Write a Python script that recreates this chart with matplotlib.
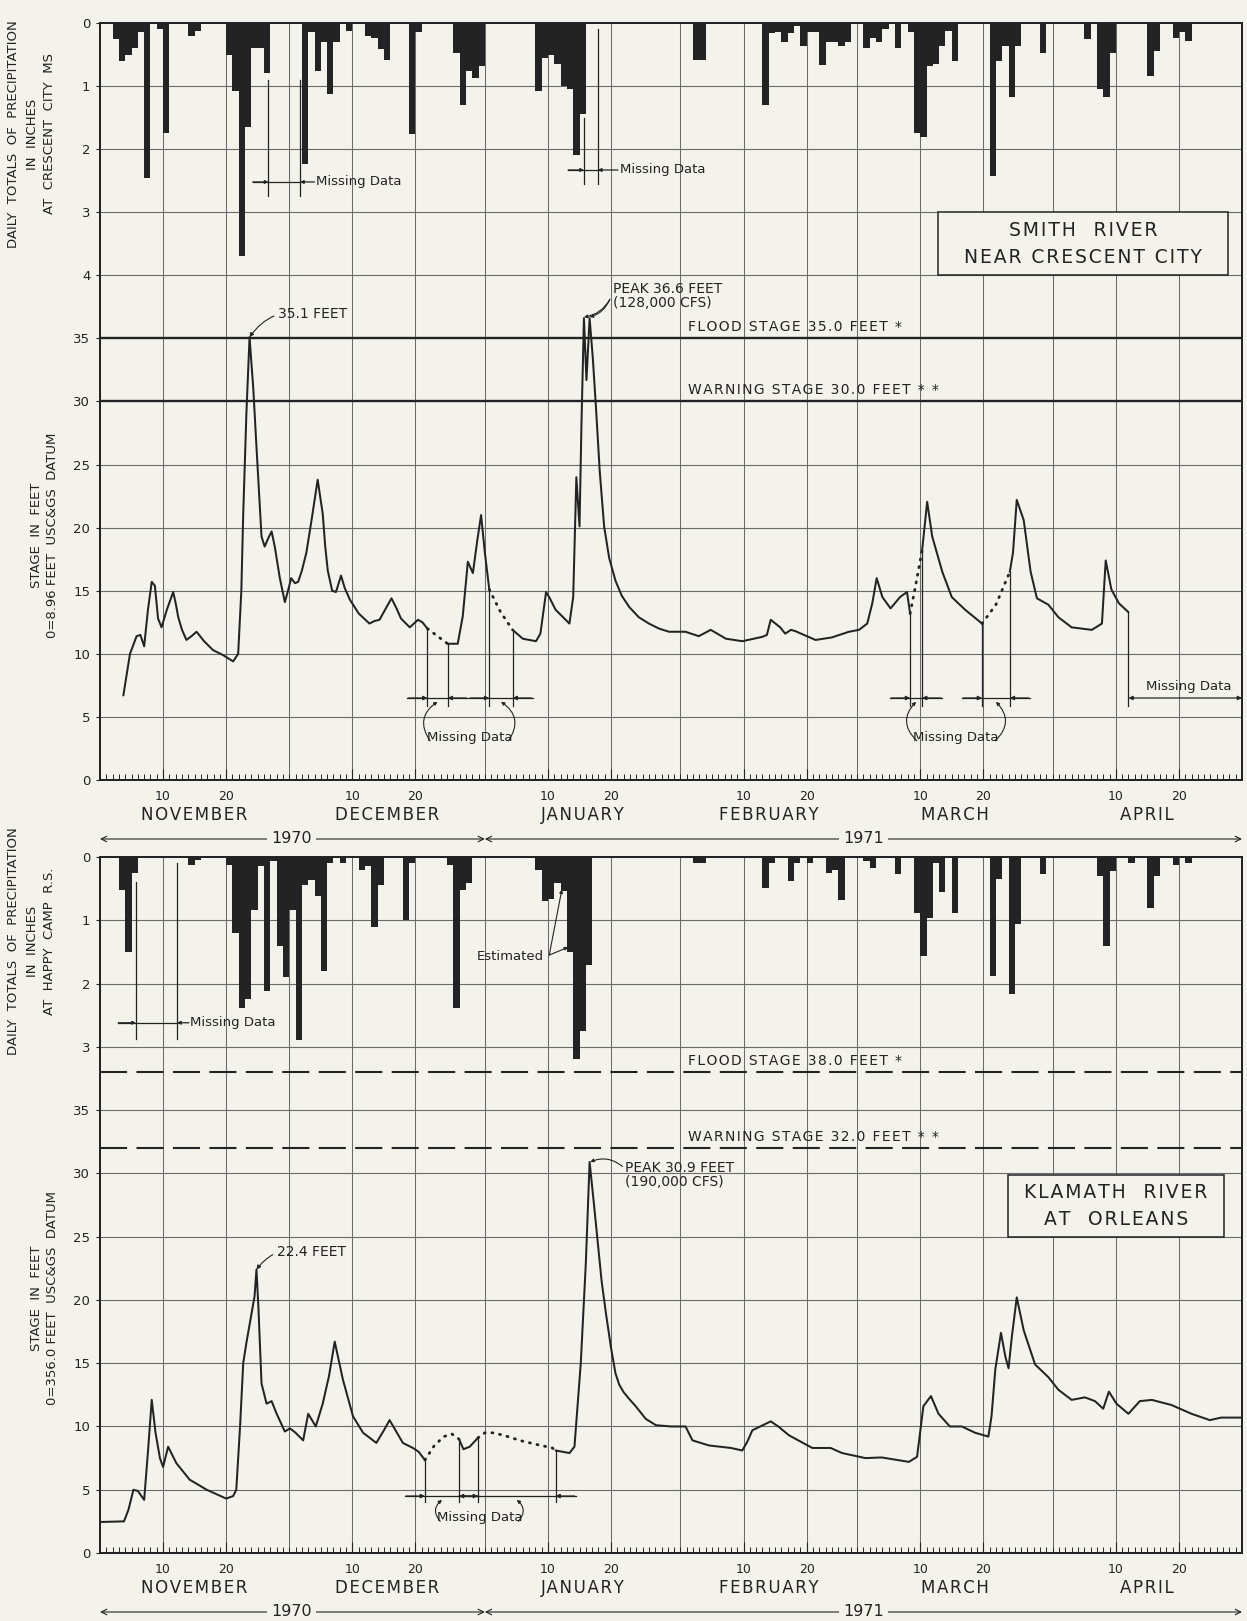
import numpy as np
import matplotlib
matplotlib.use("Agg")
import matplotlib.pyplot as plt
from matplotlib.patches import Rectangle
from matplotlib.transforms import offset_copy

W, H = 1247, 1621
BG = "#f3f3eb"
INK = "#232323"
GRIDC = "#6b6b6b"
plt.rcParams["font.family"] = ["DejaVu Sans"]
HAIR = "\u200a"

# ---------------- data ----------------
month_names = ["NOVEMBER", "DECEMBER", "JANUARY", "FEBRUARY", "MARCH", "APRIL"]
month_lengths = [30, 31, 31, 28, 31, 30]
day_labels = [10, 20]
year_labels = ["1970", "1971"]
year_label_day = [30.4, 121.0]

# Smith River near Crescent City: stage (ft) vs day counted from 31 Oct 1970
smith_day = [3.7, 4.75, 5.8, 6.4, 7.0, 7.6, 8.2, 8.7, 9.2, 9.75, 10.6, 11.6, 12.0, 12.4, 13.0,
             13.7, 14.5, 15.3, 16.5, 17.9, 19.5, 21.1, 21.9, 22.4, 22.7, 23.2, 23.7, 24.3, 24.8,
             25.6, 26.1, 26.7, 27.2, 27.7, 28.5, 29.3, 29.8, 30.3, 30.9, 31.4, 32.0, 32.7, 33.5,
             34.5, 35.3, 35.7, 36.1, 36.8, 37.4, 38.2, 38.8, 39.6, 41.0, 42.7, 43.5, 44.3, 45.3,
             46.2, 47.0, 47.7, 49.1, 50.4, 51.1, 51.9, 53.5, 55.1, 56.7, 57.5, 58.3, 59.1, 59.8,
             60.4, 61.0, 61.7, 63.5, 65.4, 67.0, 69.1, 69.8, 70.7, 71.3, 72.2, 74.4, 75.0, 75.5,
             76.0, 76.3, 76.7, 77.1, 77.6, 78.1, 78.6, 79.2, 79.9, 80.7, 81.7, 82.7, 83.9, 85.4,
             87.0, 88.6, 90.2,
             92.8, 94.9, 96.8, 99.2, 101.8, 105.0, 105.7, 106.3, 107.8, 108.6, 109.5, 110.2, 113.4,
             116.0, 118.7, 120.3, 121.6, 122.4, 123.1, 124.0, 125.3, 126.8, 127.9, 128.4, 129.3,
             130.3, 131.1, 131.9, 133.5, 135.0, 137.1, 139.8, 142.0, 144.2, 144.7, 145.3, 146.4,
             147.5, 148.5, 150.3, 151.9, 154.0, 157.2, 158.8, 159.4, 160.3, 161.5, 163.0]
smith_stage = [6.7, 10.0, 11.4, 11.5, 10.6, 13.5, 15.7, 15.4, 12.8, 12.1, 13.5, 14.9, 14.0, 12.9, 11.9,
               11.1, 11.4, 11.75, 11.0, 10.3, 9.9, 9.4, 10.0, 15.0, 21.1, 29.0, 35.1, 31.0, 26.4,
               19.3, 18.5, 19.2, 19.7, 18.5, 16.0, 14.1, 15.0, 16.0, 15.6, 15.7, 16.6, 18.0, 20.5,
               23.8, 21.1, 18.5, 16.6, 15.0, 14.9, 16.2, 15.2, 14.3, 13.2, 12.4, 12.6, 12.7, 13.6,
               14.4, 13.6, 12.8, 12.1, 12.7, 12.5, 12.0, 11.4, 10.8, 10.8, 13.0, 17.3, 16.4, 19.0,
               21.0, 18.0, 15.1, 13.3, 11.9, 11.2, 11.0, 11.6, 14.9, 14.4, 13.5, 12.4, 14.5, 24.0,
               20.1, 28.0, 36.6, 31.7, 36.6, 33.5, 29.6, 24.5, 20.1, 17.6, 15.8, 14.6, 13.7, 12.9,
               12.4, 12.0, 11.75,
               11.75, 11.4, 11.9, 11.2, 11.0, 11.35, 11.5, 12.7, 12.1, 11.6, 11.9, 11.8, 11.1,
               11.3, 11.75, 11.9, 12.4, 14.0, 16.0, 14.5, 13.6, 14.5, 14.9, 13.2, 15.5,
               18.2, 22.05, 19.3, 16.5, 14.5, 13.5, 12.4, 13.9, 16.5, 18.0, 22.2, 20.6,
               16.5, 14.4, 13.9, 12.9, 12.1, 11.9, 12.4, 17.4, 15.1, 14.0, 13.3]
smith_gaps = [(51.9, 55.1), (61.7, 65.4), (128.4, 130.3), (139.8, 144.2)]
smith_flood = 35.0
smith_warning = 30.0

# daily precipitation (inches) at Crescent City
smith_rain_day = [3, 4, 5, 6, 7, 8, 10, 11, 15, 16, 21, 22, 23, 24, 25, 26, 27,
                  33, 34, 35, 36, 37, 38, 40, 43, 44, 45, 46, 50, 51, 57, 58, 59, 60, 61,
                  70, 71, 72, 73, 74, 75, 76, 77, 95, 96,
                  106, 107, 108, 109, 110, 111, 112, 113, 114, 115, 116, 117, 118, 119,
                  122, 123, 124, 125, 127, 129, 130, 131, 132, 133, 134, 135, 136,
                  142, 143, 144, 145, 146, 150, 157, 159, 160, 161, 167, 168, 171, 172, 173]
smith_rain_in = [0.26, 0.6, 0.5, 0.4, 0.15, 2.45, 0.1, 1.75, 0.2, 0.13, 0.5, 1.08, 3.7, 1.65, 0.4, 0.4, 0.8,
                 2.24, 0.15, 0.76, 0.3, 1.13, 0.3, 0.13, 0.2, 0.24, 0.42, 0.58, 1.76, 0.15, 0.47, 1.3, 0.76, 0.87, 0.68,
                 1.08, 0.55, 0.5, 0.65, 1.0, 1.05, 2.1, 1.45, 0.58, 0.58,
                 1.3, 0.16, 0.15, 0.3, 0.16, 0.05, 0.37, 0.15, 0.15, 0.66, 0.3, 0.3, 0.37, 0.3,
                 0.4, 0.24, 0.3, 0.1, 0.4, 0.15, 1.74, 1.8, 0.68, 0.65, 0.37, 0.13, 0.6,
                 2.42, 0.6, 0.37, 1.18, 0.37, 0.47, 0.26, 1.05, 1.18, 0.47, 0.84, 0.45, 0.24, 0.15, 0.29]
smith_rain_missing = [(26.7, 31.7), (76.7, 78.9)]

# Klamath River at Orleans
klamath_day = [0.0, 3.8, 4.5, 5.3, 6.0, 7.0, 7.6, 8.2, 8.8, 9.5, 10.0, 10.8, 12.1, 14.2, 16.9, 20.0,
               21.1, 21.6, 22.2, 22.7, 23.2, 24.5, 24.8, 25.1, 25.6, 26.4, 27.2, 28.0, 29.3, 30.1,
               31.0, 32.2, 33.0, 34.2, 35.3, 36.3, 37.2, 38.5, 40.1, 41.7, 43.8, 45.0, 45.9, 48.0,
               49.6, 50.5, 51.5, 53.0, 54.5, 55.8, 56.9, 57.6, 58.6, 59.9, 61.0, 62.2, 64.0, 66.5,
               69.0, 71.7, 72.2, 74.4, 75.2, 76.2, 77.0, 77.6, 78.2, 78.8, 79.5, 80.2, 81.0, 81.7,
               82.3, 83.0, 84.0, 84.9,
               86.5, 88.1, 90.5, 92.8, 93.9, 96.5, 100.0, 101.8, 102.6, 103.4, 106.3, 107.5, 109.2,
               112.9, 115.8, 117.6, 121.3, 123.9, 128.2, 129.5, 130.5, 131.7, 132.9, 134.7, 136.6,
               138.7, 140.8, 141.3, 141.9, 142.8, 143.5, 144.0, 144.5, 145.3, 146.4, 148.2, 150.3,
               151.9, 154.0, 156.1, 157.7, 159.0, 159.9, 161.1, 163.0, 164.8, 166.7, 169.8, 173.0,
               175.9, 177.7, 181.0]
klamath_stage = [2.45, 2.5, 3.4, 5.0, 4.9, 4.2, 8.0, 12.1, 9.5, 7.5, 6.8, 8.4, 7.1, 5.8, 5.0, 4.3,
                 4.5, 5.0, 10.0, 15.0, 16.6, 20.3, 22.4, 19.5, 13.4, 11.8, 12.0, 11.0, 9.6, 9.85,
                 9.5, 8.9, 11.0, 10.0, 11.8, 14.0, 16.7, 13.7, 10.8, 9.5, 8.7, 9.7, 10.5, 8.7,
                 8.3, 8.0, 7.35, 8.5, 9.2, 9.4, 9.0, 8.2, 8.4, 9.1, 9.5, 9.5, 9.3, 8.9,
                 8.6, 8.3, 8.1, 7.9, 8.4, 15.0, 22.9, 30.9, 28.0, 25.0, 21.5, 18.9, 16.2, 14.2,
                 13.3, 12.7, 12.1, 11.6,
                 10.6, 10.1, 10.0, 10.0, 8.9, 8.5, 8.3, 8.1, 8.8, 9.7, 10.4, 10.0, 9.3,
                 8.3, 8.3, 7.9, 7.5, 7.55, 7.2, 7.6, 11.6, 12.4, 11.0, 10.0, 10.0,
                 9.5, 9.2, 10.8, 14.5, 17.4, 15.5, 14.6, 17.0, 20.2, 17.6, 14.9, 13.9,
                 12.9, 12.1, 12.3, 12.0, 11.4, 12.75, 11.8, 11.0, 12.0, 12.1, 11.7, 11.0,
                 10.5, 10.7, 10.7]
klamath_gaps = [(51.5, 56.9), (59.9, 72.2)]
klamath_flood = 38.0
klamath_warning = 32.0

# daily precipitation (inches) at Happy Camp R.S.
klamath_rain_day = [4, 5, 6, 15, 16, 21, 22, 23, 24, 25, 26, 27, 28, 29, 30, 31, 32, 33, 34, 35, 36, 37,
                    39, 42, 43, 44, 45, 49, 50, 56, 57, 58, 59,
                    70, 71, 72, 73, 74, 75, 76, 77, 78, 95, 96,
                    106, 107, 110, 111, 113, 116, 117, 118, 122, 123, 127,
                    130, 131, 132, 133, 134, 136, 142, 143, 145, 146, 150,
                    159, 160, 161, 164, 167, 168, 171, 173]
klamath_rain_in = [0.52, 1.5, 0.25, 0.12, 0.05, 0.12, 1.2, 2.38, 2.25, 0.83, 0.15, 2.12, 0.07, 1.41, 1.9, 0.83,
                   2.9, 0.44, 0.36, 0.62, 1.8, 0.1,
                   0.1, 0.2, 0.15, 1.1, 0.44, 0.99, 0.1, 0.12, 2.38, 0.52, 0.41,
                   0.2, 0.7, 0.67, 0.41, 0.54, 1.5, 3.2, 2.75, 1.7, 0.1, 0.1,
                   0.49, 0.1, 0.38, 0.1, 0.1, 0.25, 0.2, 0.68, 0.06, 0.17, 0.27,
                   0.88, 1.56, 0.96, 0.1, 0.56, 0.88, 1.88, 0.35, 2.17, 1.06, 0.27,
                   0.3, 1.4, 0.22, 0.09, 0.8, 0.3, 0.12, 0.09]
klamath_rain_missing = [(5.7, 12.2)]
klamath_estimated_days = [74, 75]

# ---------------- helpers ----------------
month_start = np.concatenate([[0], np.cumsum(month_lengths)])
n_days = month_start[-1]
grid_x = sorted(set(list(month_start) + [m + d for m in month_start[:-1] for d in day_labels]))

fig = plt.figure(figsize=(W / 100, H / 100), dpi=100)
fig.patch.set_facecolor(BG)


def spaced(txt):
    return HAIR.join(txt)


def rect(x0, y0, x1, y1):
    return [x0 / W, 1 - y1 / H, (x1 - x0) / W, (y1 - y0) / H]


def arrow(ax, xy, xytext, style="-|>", rad=0.0, ms=7, lw=0.9):
    ax.annotate("", xy=xy, xytext=xytext,
                arrowprops=dict(arrowstyle=style, color=INK, lw=lw, mutation_scale=ms,
                                shrinkA=0, shrinkB=0,
                                connectionstyle=f"arc3,rad={rad}"))


def panel(y0, y1, top_ft, day, stage, gaps, rday, rin, flood, warn, dashed,
          flood_txt, warn_txt, box_txt, box_rect, miss_y, miss_bot):
    ax = fig.add_axes(rect(100, y0, 1242, y1))
    ax.set_facecolor("none")
    ax.set_xlim(0, n_days)
    ax.set_ylim(0, top_ft)
    for gx in grid_x:
        ax.axvline(gx, color=GRIDC, lw=0.75, zorder=0.5)
    for gy in np.arange(5, top_ft, 5):
        if gy in (flood, warn):
            continue
        ax.axhline(gy, color=GRIDC, lw=0.8, zorder=0.5)
    for v in (flood, warn):
        if dashed:
            ax.axhline(v, color=INK, lw=1.5, ls=(0, (13, 4.5)), zorder=1)
        else:
            ax.axhline(v, color=INK, lw=1.7, zorder=1)
    ax.text(93.2, flood + 0.9, spaced(flood_txt), fontsize=10, color=INK, va="center", ha="left")
    ax.text(93.2, warn + 0.9, spaced(warn_txt), fontsize=10, color=INK, va="center", ha="left")

    # stage hydrograph, dotted where record is missing
    d = np.asarray(day, float)
    s = np.asarray(stage, float)
    styles = [any(g0 <= d[i] and d[i + 1] <= g1 for g0, g1 in gaps) for i in range(len(d) - 1)]
    start = 0
    for i in range(1, len(styles) + 1):
        if i == len(styles) or styles[i] != styles[start]:
            sl = slice(start, i + 1)
            if styles[start]:
                ax.plot(d[sl], s[sl], color=INK, lw=2.0, ls=(0, (0.4, 2.4)),
                        dash_capstyle="round", zorder=3)
            else:
                ax.plot(d[sl], s[sl], color=INK, lw=1.45, zorder=3,
                        solid_joinstyle="round", solid_capstyle="round")
            start = i

    # missing-data brackets under the dotted pieces
    for g0, g1 in gaps:
        for g in (g0, g1):
            ax.plot([g, g], [np.interp(g, d, s), miss_bot], color=INK, lw=0.9, zorder=2)
        ax.plot([g0 - 3.2, g1 + 3.2], [miss_y, miss_y], color=INK, lw=0.9, zorder=2)
        arrow(ax, (g0, miss_y), (g0 - 3.0, miss_y), ms=6)
        arrow(ax, (g1, miss_y), (g1 + 3.0, miss_y), ms=6)
    mids = [(g0 + g1) / 2 for g0, g1 in gaps]

    # box label
    bx0, by0, bx1, by1 = box_rect
    ax.add_patch(Rectangle((bx0, by0), bx1 - bx0, by1 - by0, facecolor=BG,
                           edgecolor=INK, lw=1.1, zorder=2.5))
    ax.text((bx0 + bx1) / 2, (by0 + by1) / 2, "\n".join(spaced(t) for t in box_txt),
            ha="center", va="center", fontsize=13.5, color=INK, linespacing=1.55, zorder=4)

    # precipitation hanging from the top
    axp = ax.twinx()
    axp.set_ylim(top_ft / 5, 0)
    axp.bar(np.asarray(rday) - 0.5, rin, width=1.0, color=INK, linewidth=0, zorder=2)

    # ticks
    ax.set_yticks(np.arange(0, 40, 5))
    ax.tick_params(axis="y", direction="out", length=3, labelsize=9.5, pad=4, colors=INK)
    axp.yaxis.tick_left()
    axp.set_yticks(range(0, int((top_ft - 40) / 5) + 1))
    axp.tick_params(axis="y", direction="out", length=3, labelsize=9.5, pad=4, colors=INK)
    tick_x = [m + dd for m in month_start[:-1] for dd in day_labels]
    ax.set_xticks(tick_x)
    ax.set_xticklabels([str(dd) for m in month_start[:-1] for dd in day_labels])
    ax.set_xticks(np.arange(0, n_days + 1), minor=True)
    ax.tick_params(axis="x", which="major", direction="in", length=8, width=0.8,
                   pad=7, labelsize=9, colors=INK)
    ax.tick_params(axis="x", which="minor", direction="in", length=4.5, width=0.7, colors=INK)
    for a in (ax, axp):
        for sp in a.spines.values():
            sp.set_linewidth(1.3)
            sp.set_color(INK)

    # month and year captions
    for k, name in enumerate(month_names):
        mid = (month_start[k] + month_start[k + 1]) / 2
        ax.annotate(spaced(name), xy=(mid, 0), xycoords=("data", "axes fraction"),
                    xytext=(0, -25.5), textcoords="offset points", ha="center",
                    va="center", fontsize=12, color=INK)
    ytr = offset_copy(ax.get_xaxis_transform(), fig=fig, x=0, y=-59, units="dots")
    spans = [(0, month_start[2]), (month_start[2], n_days)]
    for (a0, a1), lbl, lx in zip(spans, year_labels, year_label_day):
        ax.annotate("", xy=(a0, 0), xytext=(a1, 0), xycoords=ytr, textcoords=ytr,
                    arrowprops=dict(arrowstyle="<->", color=INK, lw=0.8,
                                    mutation_scale=10, shrinkA=0, shrinkB=0))
        ax.text(lx, 0, lbl, transform=ytr, ha="center", va="center", fontsize=11.5,
                color=INK, bbox=dict(facecolor=BG, edgecolor="none", pad=3))
    return ax, axp, mids


# ---------------- top panel ----------------
ax1, ap1, mids1 = panel(23, 780, 60, smith_day, smith_stage, smith_gaps,
                        smith_rain_day, smith_rain_in, smith_flood, smith_warning, False,
                        "FLOOD STAGE 35.0 FEET *", "WARNING STAGE 30.0 FEET * *",
                        ["SMITH  RIVER", "NEAR CRESCENT CITY"], (132.8, 40.0, 178.8, 45.0),
                        6.5, 5.9)

sd = np.asarray(smith_day)
ss = np.asarray(smith_stage)
i1 = int(np.argmax(np.where(sd < 40, ss, -1)))
ax1.annotate("35.1 FEET", xy=(sd[i1], ss[i1]), xytext=(28.2, 36.9), fontsize=10, color=INK,
             va="center", ha="left",
             arrowprops=dict(arrowstyle="-|>", color=INK, lw=0.8, mutation_scale=6,
                             shrinkA=1, shrinkB=0, connectionstyle="arc3,rad=0.35"))
jan = np.where((sd > 76) & (sd < 78.5))[0]
pk = jan[np.argsort(ss[jan])[-2:]]
ax1.text(81.3, 38.4, "PEAK 36.6 FEET\n(128,000 CFS)", fontsize=10, color=INK,
         va="center", ha="left", linespacing=1.0)
for j in pk:
    arrow(ax1, (sd[j], ss[j] + 0.1), (80.8, 38.1), rad=-0.25, ms=5, lw=0.8)

# stage missing-data captions (top)
for (ma, mb) in [(mids1[0], mids1[1]), (mids1[2], mids1[3])]:
    c = (ma + mb) / 2
    ax1.text(c, 3.4, "Missing Data", ha="center", va="center", fontsize=9.5, color=INK)
    arrow(ax1, (ma, 6.2), (c - 6.2, 3.1), rad=-0.5, ms=5, lw=0.8)
    arrow(ax1, (mb, 6.2), (c + 6.2, 3.1), rad=0.5, ms=5, lw=0.8)
# end-of-record marker
last_t = sd[-1]
ax1.plot([last_t, last_t], [ss[-1], 5.9], color=INK, lw=0.9)
ax1.annotate("", xy=(n_days, 6.5), xytext=(last_t, 6.5),
             arrowprops=dict(arrowstyle="<|-|>", color=INK, lw=0.9, mutation_scale=6,
                             shrinkA=0, shrinkB=0))
ax1.text((last_t + n_days) / 2 + 0.6, 7.4, "Missing Data", ha="center", va="center",
         fontsize=9.5, color=INK)

# precipitation missing data (top)
for (m0, m1), (py, ptop0, ptop1, txt_t) in zip(smith_rain_missing,
                                              [(2.52, 0.9, 0.9, 34.3), (2.33, 1.5, 0.1, 82.4)]):
    ap1.plot([m0, m0], [ptop0, py + 0.22], color=INK, lw=0.9)
    ap1.plot([m1, m1], [ptop1, py + 0.22], color=INK, lw=0.9)
    ap1.plot([m0 - 2.5, m1], [py, py], color=INK, lw=0.9)
    arrow(ap1, (m0, py), (m0 - 2.5, py), ms=5)
    arrow(ap1, (m1, py), (txt_t - 0.3, py), ms=5)
    ap1.text(txt_t, py, "Missing Data", ha="left", va="center", fontsize=9.5, color=INK)

# ---------------- bottom panel ----------------
ax2, ap2, mids2 = panel(857, 1553, 55, klamath_day, klamath_stage, klamath_gaps,
                        klamath_rain_day, klamath_rain_in, klamath_flood, klamath_warning, True,
                        "FLOOD STAGE 38.0 FEET *", "WARNING STAGE 32.0 FEET * *",
                        ["KLAMATH  RIVER", "AT  ORLEANS"], (143.9, 25.0, 178.1, 29.9),
                        4.5, 4.0)

kd = np.asarray(klamath_day)
ks = np.asarray(klamath_stage)
k1 = int(np.argmax(np.where(kd < 40, ks, -1)))
ax2.annotate("22.4 FEET", xy=(kd[k1], ks[k1]), xytext=(28.0, 23.8), fontsize=10, color=INK,
             va="center", ha="left",
             arrowprops=dict(arrowstyle="-|>", color=INK, lw=0.8, mutation_scale=6,
                             shrinkA=1, shrinkB=0, connectionstyle="arc3,rad=0.35"))
k2 = int(np.argmax(ks))
ax2.text(83.2, 29.9, "PEAK 30.9 FEET\n(190,000 CFS)", fontsize=10, color=INK,
         va="center", ha="left", linespacing=1.0)
arrow(ax2, (kd[k2] + 0.1, ks[k2]), (82.8, 30.55), rad=0.3, ms=5, lw=0.8)

ca = (mids2[0] + mids2[1]) / 2
ax2.text(ca, 2.8, "Missing Data", ha="center", va="center", fontsize=9.5, color=INK)
arrow(ax2, (mids2[0], 4.2), (ca - 6.2, 2.5), rad=-0.5, ms=5, lw=0.8)
arrow(ax2, (mids2[1], 4.2), (ca + 6.2, 2.5), rad=0.5, ms=5, lw=0.8)

for m0, m1 in klamath_rain_missing:
    py = 2.62
    ap2.plot([m0, m0], [0.4, py + 0.25], color=INK, lw=0.9)
    ap2.plot([m1, m1], [0.1, py + 0.25], color=INK, lw=0.9)
    ap2.plot([m0 - 2.8, m1], [py, py], color=INK, lw=0.9)
    arrow(ap2, (m0, py), (m0 - 2.8, py), ms=5)
    arrow(ap2, (m1, py), (m1 + 1.9, py), ms=5)
    ap2.text(m1 + 2.0, py, "Missing Data", ha="left", va="center", fontsize=9.5, color=INK)

kr_d = np.asarray(klamath_rain_day)
kr_v = np.asarray(klamath_rain_in)
ap2.text(59.7, 1.57, "Estimated", ha="left", va="center", fontsize=9.5, color=INK)
for ed in klamath_estimated_days:
    v = kr_v[kr_d == ed][0]
    arrow(ap2, (ed - 0.8, v * 0.95), (71.2, 1.55), ms=5, lw=0.8)

# ---------------- axis titles ----------------
def vlabel(x, y, txt):
    fig.text(x / W, 1 - y / H, txt, rotation=90, ha="center", va="center",
             fontsize=9.5, color=INK)

vlabel(14, 134, "DAILY  TOTALS  OF  PRECIPITATION")
vlabel(33, 134, "IN  INCHES")
vlabel(50, 134, "AT  CRESCENT  CITY  MS")
vlabel(36, 535, "STAGE  IN  FEET")
vlabel(53, 535, "0=8.96 FEET  USC&GS  DATUM")
vlabel(14, 941, "DAILY  TOTALS  OF  PRECIPITATION")
vlabel(33, 941, "IN  INCHES")
vlabel(50, 941, "AT  HAPPY  CAMP  R.S.")
vlabel(36, 1298, "STAGE  IN  FEET")
vlabel(53, 1298, "0=356.0 FEET  USC&GS  DATUM")

fig.savefig("out.png", dpi=100, facecolor=BG)
